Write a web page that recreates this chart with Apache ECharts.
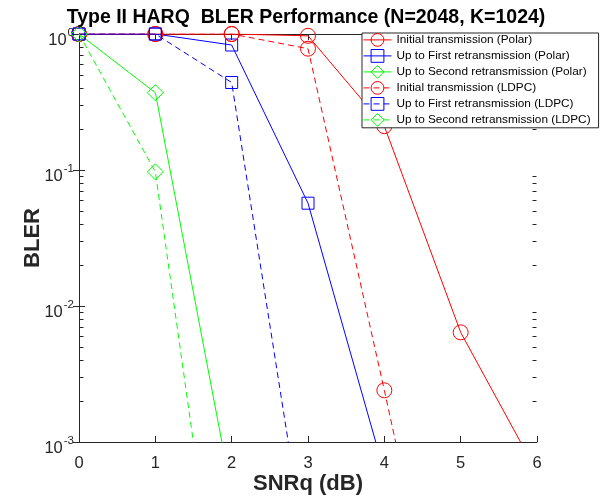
<!DOCTYPE html>
<html><head><meta charset="utf-8">
<script src="https://cdn.jsdelivr.net/npm/echarts@6/dist/echarts.min.js"></script>
<style>html,body{margin:0;padding:0;background:#fff}#c{width:608px;height:497px}</style>
</head><body><div id="c"></div>
<script>
var snr = [0, 1, 2, 3, 4, 5, 6];
var polarInit   = [1, 1, 1, 0.97, 0.21, 0.0064, 0.0006];
var polarFirst  = [1, 1, 0.83, 0.057, 0.0006];
var polarSecond = [1, 0.37, 0.00042];
var ldpcInit    = [1, 1, 1, 0.78, 0.0024, 0.0000065];
var ldpcFirst   = [1, 1, 0.44, 0.00012];
var ldpcSecond  = [1, 0.097, 0.00001];
var seriesNames = [
  'Initial transmission (Polar)',
  'Up to First retransmission (Polar)',
  'Up to Second retransmission (Polar)',
  'Initial transmission (LDPC)',
  'Up to First retransmission (LDPC)',
  'Up to Second retransmission (LDPC)'
];
var xTicks = [0, 1, 2, 3, 4, 5, 6];
var yMinor = [];
[1e-3, 1e-2, 1e-1].forEach(function (d) { for (var m = 2; m <= 9; m++) yMinor.push(m * d); });

var RED = '#ff0000', BLUE = '#0000ff', GREEN = '#00ff00', AX = '#262626';
var FONT = '"Liberation Sans", Arial, Helvetica, sans-serif';

function pairs(arr) { return arr.map(function (v, i) { return [snr[i], v]; }); }
function mk(name, arr, color, symbol, size, dashed) {
  return {
    name: name, type: 'line', data: pairs(arr), clip: true,
    symbol: symbol, symbolSize: size, showAllSymbol: true,
    lineStyle: { color: color, width: 1, type: dashed ? [6, 4] : 'solid' },
    itemStyle: { color: 'rgba(255,255,255,0)', borderColor: color, borderWidth: 1 },
    emphasis: { disabled: true }, animation: false, z: 3
  };
}

var chart = echarts.init(document.getElementById('c'), null, { renderer: 'canvas' });
var yLab = {
  show: true, margin: 5, color: AX, fontFamily: FONT, padding: [7, 0, 0, 0],
  formatter: function (v) {
    var e = Math.round(Math.log10(v));
    return '{b|10}{s|' + e + '}';
  },
  rich: {
    b: { fontSize: 16.5, fontFamily: FONT, color: AX, lineHeight: 22, verticalAlign: 'bottom' },
    s: { fontSize: 11.5, fontFamily: FONT, color: AX, lineHeight: 22, verticalAlign: 'top', padding: [0, 0, 0, 1] }
  }
};
var option = {
  backgroundColor: '#fff',
  animation: false,
  title: {
    text: 'Type II HARQ  BLER Performance (N=2048, K=1024)',
    left: 301, textAlign: 'center', top: 3,
    textStyle: { fontFamily: FONT, fontWeight: 'bold', fontSize: 19.5, color: '#000' }
  },
  grid: { left: 79, right: 71, top: 34, bottom: 55, containLabel: false, outerBoundsMode: 'none' },
  legend: {
    data: seriesNames, orient: 'vertical', left: 362, top: 33, z: 10,
    itemWidth: 28, itemHeight: 16, itemGap: 2.2, padding: [0, 8, 1, 1],
    backgroundColor: '#fff', borderColor: AX, borderWidth: 1, borderRadius: 0,
    lineStyle: { width: 1 },
    itemStyle: { borderWidth: 1 },
    textStyle: { fontFamily: FONT, fontSize: 11.8, color: '#000' },
    selectedMode: false
  },
  xAxis: [{
    type: 'value', min: 0, max: 6, interval: 1, position: 'bottom',
    name: 'SNRq (dB)', nameLocation: 'middle', nameGap: 31, nameMoveOverlap: false,
    nameTextStyle: { fontFamily: FONT, fontWeight: 'bold', fontSize: 22, color: AX },
    axisLine: { show: true, lineStyle: { color: AX, width: 1 } },
    axisTick: { show: true, inside: true, length: 6, lineStyle: { color: AX } },
    axisLabel: { fontFamily: FONT, fontSize: 16.5, color: AX, margin: 13 },
    splitLine: { show: false }
  }, {
    type: 'value', min: 0, max: 6, interval: 1, position: 'top',
    axisLine: { show: true, lineStyle: { color: AX, width: 1 } },
    axisTick: { show: true, inside: true, length: 6, lineStyle: { color: AX } },
    axisLabel: { show: false }, splitLine: { show: false }
  }],
  yAxis: [{
    type: 'log', logBase: 10, min: 1e-3, max: 1, position: 'left',
    name: 'BLER', nameLocation: 'middle', nameGap: 35, nameRotate: 90, nameMoveOverlap: false,
    nameTextStyle: { fontFamily: FONT, fontWeight: 'bold', fontSize: 22, color: AX },
    axisLine: { show: true, lineStyle: { color: AX, width: 1 } },
    axisTick: { show: true, inside: true, length: 6, lineStyle: { color: AX } },
    axisLabel: yLab, splitLine: { show: false }
  }, {
    type: 'log', logBase: 10, min: 1e-3, max: 1, position: 'right',
    axisLine: { show: true, lineStyle: { color: AX, width: 1 } },
    axisTick: { show: true, inside: true, length: 6, lineStyle: { color: AX } },
    axisLabel: { show: false }, splitLine: { show: false }
  }],
  series: [
    mk(seriesNames[0], polarInit, RED, 'circle', 15, false),
    mk(seriesNames[1], polarFirst, BLUE, 'rect', 12, false),
    mk(seriesNames[2], polarSecond, GREEN, 'diamond', 16, false),
    mk(seriesNames[3], ldpcInit, RED, 'circle', 15, true),
    mk(seriesNames[4], ldpcFirst, BLUE, 'rect', 12, true),
    mk(seriesNames[5], ldpcSecond, GREEN, 'diamond', 16, true)
  ]
};
chart.setOption(option);

// minor log ticks (2..9 x 10^k) on both y sides, positioned through the chart's own scales
var tickEls = [];
var xl = chart.convertToPixel({ xAxisIndex: 0 }, 0);
var xr = chart.convertToPixel({ xAxisIndex: 0 }, 6);
if (!isFinite(xl)) xl = 79;
if (!isFinite(xr)) xr = 537;
yMinor.forEach(function (v) {
  var py = chart.convertToPixel({ yAxisIndex: 0 }, v);
  var y = Math.round(py) + 0.5;
  tickEls.push({ type: 'line', z: 1, silent: true,
    shape: { x1: xl + 0.5, y1: y, x2: xl + 4.5, y2: y }, style: { stroke: AX, lineWidth: 1 } });
  tickEls.push({ type: 'line', z: 1, silent: true,
    shape: { x1: xr - 0.5, y1: y, x2: xr - 4.5, y2: y }, style: { stroke: AX, lineWidth: 1 } });
});
chart.setOption({ graphic: { elements: tickEls } });
</script></body></html>
